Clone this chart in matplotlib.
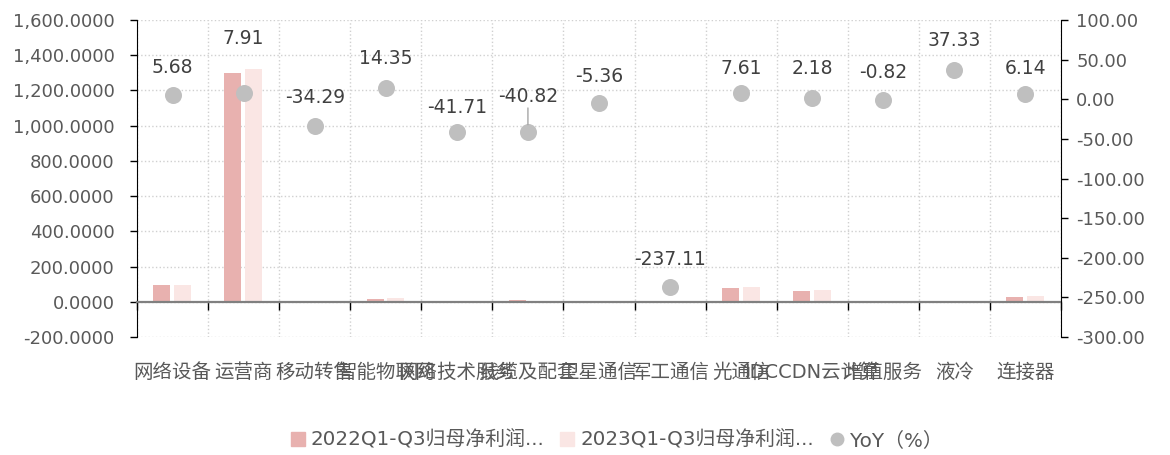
import matplotlib
matplotlib.use("Agg")
import matplotlib.pyplot as plt
from matplotlib.ticker import FixedLocator, FuncFormatter
from matplotlib.lines import Line2D
from matplotlib.patches import Patch
import numpy as np

plt.rcParams['font.family'] = ['DejaVu Sans', 'Noto Sans CJK SC']

# sub-sector names
categories = ['网络设备', '运营商', '移动转售', '智能物联网', '网络技术服务', '线缆及配套',
              '卫星通信', '军工通信', '光通信', 'IDCCDN云计算', '增值服务', '液冷', '连接器']
# net profit attributable to parent, Q1-Q3
profit_2022 = [92.6, 1298.0, 5.0, 17.0, 3.0, 10.0, 4.0, 2.0, 78.0, 64.0, 2.0, 1.0, 28.0]
profit_2023 = [98.0, 1322.0, 3.3, 19.5, 1.8, 6.0, 3.8, -2.7, 85.0, 68.0, 2.0, 1.4, 30.0]
# year-over-year change (%)
yoy = [5.68, 7.91, -34.29, 14.35, -41.71, -40.82, -5.36, -237.11, 7.61, 2.18, -0.82, 37.33, 6.14]

legend_labels = ['2022Q1-Q3归母净利润...', '2023Q1-Q3归母净利润...', 'YoY（%）']

# label centre offsets in points above each point (some pushed up to clear bars/neighbours)
label_offsets = [19.5, 39.5, 21, 21.5, 18, 25, 19.5, 20, 18, 21, 20, 21, 18.5]

c22 = '#E8B1AF'
c23 = '#FAE6E4'
cdot = '#BFBFBF'
txt = '#595959'

fig = plt.figure(figsize=(11.7, 4.55), dpi=100)
ax = fig.add_axes([137/1170, 1-337/455, (1061-137)/1170, (337-20)/455])
x = np.arange(len(categories))

ax.bar(x - 0.15, profit_2022, width=0.24, color=c22, zorder=2)
ax.bar(x + 0.14, profit_2023, width=0.24, color=c23, zorder=2)

ax.set_xlim(-0.5, len(categories) - 0.5)
ax.set_ylim(-200, 1600)
ax.yaxis.set_major_locator(FixedLocator(np.arange(-200, 1601, 200)))
ax.yaxis.set_major_formatter(FuncFormatter(lambda v, p: f'{v:,.4f}'))
ax.tick_params(axis='y', labelsize=13, labelcolor=txt, color='black', length=5, width=1, pad=11)

# category axis sits on the zero line
ax.spines['bottom'].set_position(('data', 0))
ax.spines['bottom'].set_color('#808080')
ax.spines['bottom'].set_linewidth(1.6)
ax.spines['top'].set_visible(False)
ax.spines['right'].set_visible(False)
ax.spines['left'].set_color('black')
ax.set_xticks(x)
ax.set_xticklabels(categories)
ax.set_xticks(np.arange(-0.5, len(categories), 1), minor=True)
ax.tick_params(axis='x', which='major', length=0, pad=44, labelsize=14, labelcolor=txt)
ax.tick_params(axis='x', which='minor', length=6, width=1, color='black', direction='out')
ax.grid(axis='y', which='major', linestyle=':', color='#D0D0D0', linewidth=1, zorder=0)
ax.grid(axis='x', which='minor', linestyle=':', color='#D0D0D0', linewidth=1, zorder=0)
ax.set_axisbelow(True)

ax2 = ax.twinx()
ax2.set_ylim(-300, 100)
ax2.yaxis.set_major_locator(FixedLocator(np.arange(-300, 101, 50)))
ax2.yaxis.set_major_formatter(FuncFormatter(lambda v, p: f'{v:.2f}'))
ax2.tick_params(axis='y', labelsize=13, labelcolor=txt, color='black', length=5, width=1, pad=6)
for s in ['top', 'left', 'bottom']:
    ax2.spines[s].set_visible(False)
ax2.spines['right'].set_color('black')

ax2.scatter(x, yoy, s=150, color=cdot, zorder=3, linewidths=0)
for xi, v, off in zip(x, yoy, label_offsets):
    ax2.annotate(f'{v:.2f}', (xi, v), xytext=(0, off), textcoords='offset points',
                 ha='center', va='center', fontsize=13.5, color='#404040')

# leader line for the shifted label
i = categories.index('线缆及配套')
ax2.annotate('', (x[i], yoy[i]), xytext=(0, 17), textcoords='offset points',
             arrowprops=dict(arrowstyle='-', color='#A6A6A6', lw=1, shrinkA=0, shrinkB=5))

handles = [Patch(color=c22), Patch(color=c23),
           Line2D([], [], marker='o', linestyle='', markersize=9, color=cdot)]
fig.legend(handles, legend_labels, loc='center', bbox_to_anchor=(0.527, 0.033), ncol=3,
           frameon=False, fontsize=14.3, labelcolor=txt, handlelength=0.7, handleheight=0.7,
           handletextpad=0.3, columnspacing=0.8)

fig.savefig('out.png', dpi=100)
